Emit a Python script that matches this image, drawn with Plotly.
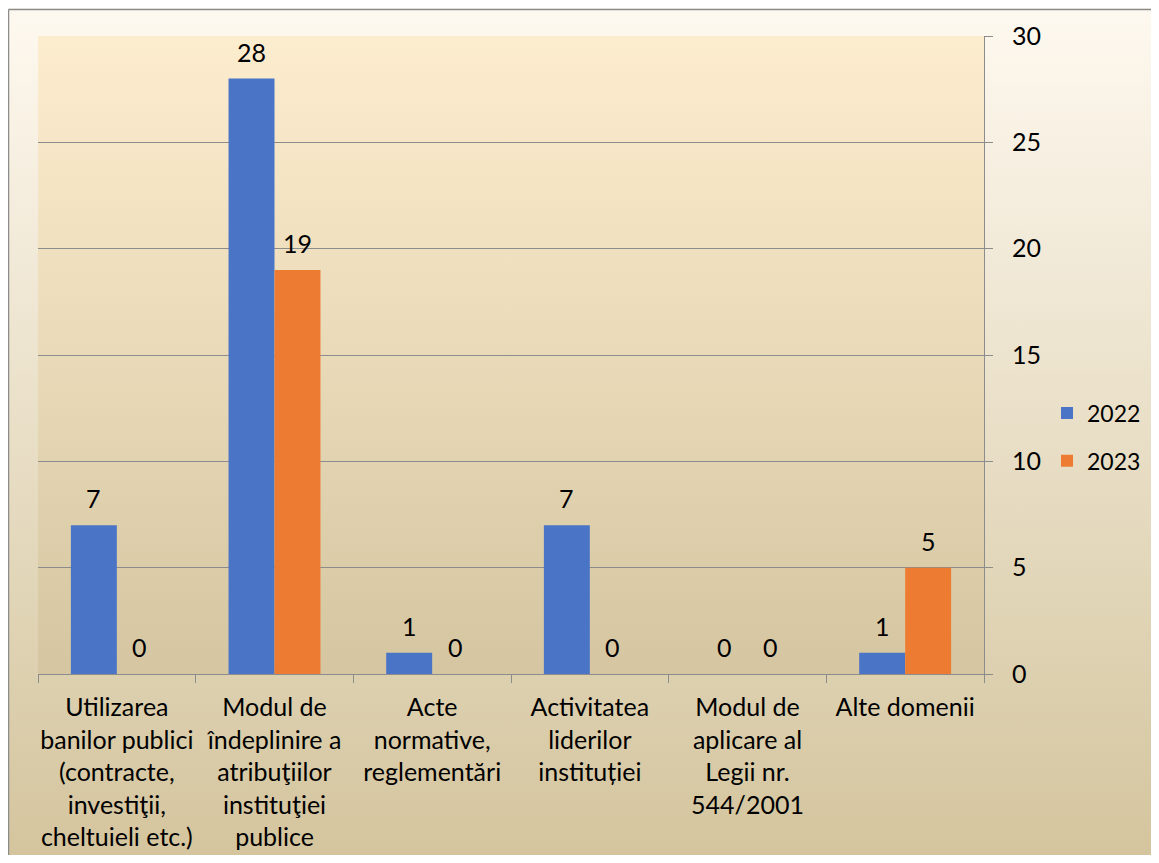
import plotly.graph_objects as go
import base64

categories = [
    "Utilizarea<br>banilor publici<br>(contracte,<br>investiţii,<br>cheltuieli etc.)",
    "Modul de<br>îndeplinire a<br>atribuţiilor<br>instituţiei<br>publice",
    "Acte<br>normative,<br>reglementări",
    "Activitatea<br>liderilor<br>instituției",
    "Modul de<br>aplicare al<br>Legii nr.<br>544/2001",
    "Alte domenii",
]
series_names = ["2022", "2023"]
values_2022 = [7, 28, 1, 7, 0, 1]
values_2023 = [0, 19, 0, 0, 0, 5]
y_ticks = [0, 5, 10, 15, 20, 25, 30]

FONT = "Lato"
FS = 25
W, H = 1143, 847
ML, MT, MR, MB = 30, 28, 167, 181
PW = W - ML - MR
PH = H - MT - MB

def svg_grad(top, bottom):
    svg = ('<svg xmlns="http://www.w3.org/2000/svg" width="100" height="100" preserveAspectRatio="none">'
           '<defs><linearGradient id="g" x1="0" y1="0" x2="0" y2="1">'
           f'<stop offset="0" stop-color="{top}"/><stop offset="1" stop-color="{bottom}"/>'
           '</linearGradient></defs><rect width="100" height="100" fill="url(#g)"/></svg>')
    return "data:image/svg+xml;base64," + base64.b64encode(svg.encode()).decode()

fig = go.Figure()
fig.add_trace(go.Bar(x=categories, y=values_2022, name=series_names[0], legendgroup="a",
                     marker=dict(color="#4A74C6", line=dict(width=0))))
fig.add_trace(go.Bar(x=categories, y=values_2023, name=series_names[1], legendgroup="b",
                     marker=dict(color="#EE7B32", line=dict(width=0))))

annotations = []
for vals, shift in ((values_2022, -23), (values_2023, 23)):
    for c, v in zip(categories, vals):
        annotations.append(dict(x=c, y=v, xref="x", yref="y", text=str(v), showarrow=False,
                                xshift=shift, yshift=27, yanchor="middle",
                                font=dict(family=FONT, size=FS, color="#000000")))

x0p = -ML / PW
x1p = (W - ML) / PW
y0p = -MB / PH
y1p = 1 + MT / PH

fig.update_layout(
    width=W, height=H,
    margin=dict(l=ML, r=MR, t=MT, b=MB, pad=0, autoexpand=False),
    paper_bgcolor="#EFE6CF",
    plot_bgcolor="rgba(0,0,0,0)",
    barmode="group", bargap=0.417, bargroupgap=0,
    font=dict(family=FONT, size=FS, color="#000000"),
    showlegend=True,
    legend=dict(x=(1047 - 38) / PW, y=(674 - 437) / PH, xanchor="left", yanchor="middle",
                bgcolor="rgba(0,0,0,0)", font=dict(family=FONT, size=23),
                itemwidth=30, traceorder="grouped", tracegroupgap=15),
    images=[
        dict(source=svg_grad("#FEF9F0", "#D4C59E"), xref="paper", yref="paper",
             x=x0p, y=y1p, sizex=x1p - x0p, sizey=y1p - y0p, sizing="stretch",
             layer="below", xanchor="left", yanchor="top"),
        dict(source=svg_grad("#FDEDCF", "#D5C6A1"), xref="paper", yref="paper",
             x=0, y=1, sizex=1, sizey=1, sizing="stretch",
             layer="below", xanchor="left", yanchor="top"),
    ],
    shapes=[
        dict(type="line", xref="paper", yref="paper", x0=x0p + 0.5 / PW, x1=x1p + 0.1,
             y0=y1p - 1.5 / PH, y1=y1p - 1.5 / PH, line=dict(color="#8C8C8C", width=1.5)),
        dict(type="line", xref="paper", yref="paper", x0=x0p + 0.5 / PW, x1=x0p + 0.5 / PW,
             y0=y0p - 0.1, y1=y1p - 1.5 / PH, line=dict(color="#8C8C8C", width=1.5)),
    ],
    annotations=annotations,
)
fig.update_yaxes(range=[0, 30], tickvals=y_ticks, side="right", automargin=False,
                 showgrid=True, gridcolor="#8C8C8C", gridwidth=1,
                 showline=True, linecolor="#8C8C8C", linewidth=1,
                 ticks="outside", ticklen=8, tickcolor="#8C8C8C",
                 ticklabelstandoff=14, zeroline=False,
                 tickfont=dict(family=FONT, size=FS, color="#000000"))
fig.update_xaxes(showline=True, linecolor="#8C8C8C", linewidth=1, automargin=False,
                 ticks="outside", ticklen=8, tickcolor="#8C8C8C", tickson="boundaries",
                 showgrid=False, ticklabelstandoff=11, tickangle=0,
                 tickfont=dict(family=FONT, size=FS, color="#000000"))

fig.write_html("out.html")
